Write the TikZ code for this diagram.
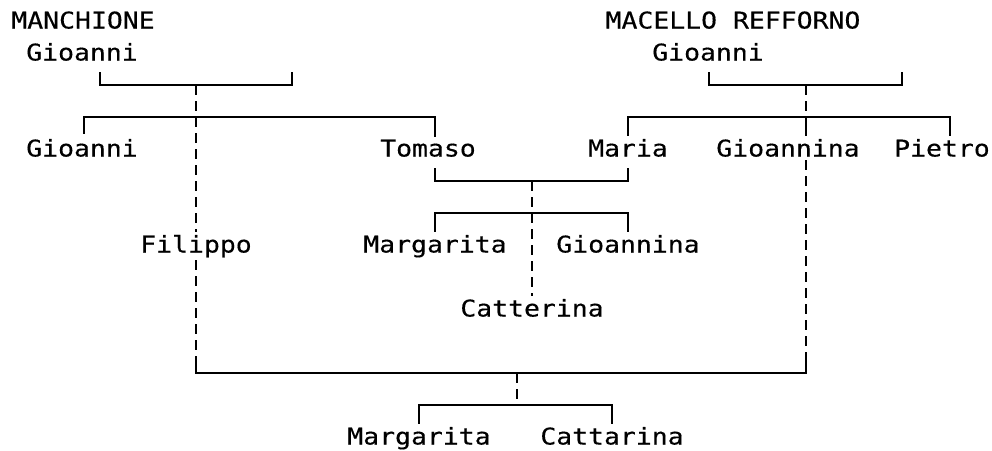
\documentclass[tikz,border=0pt]{standalone}
\usepackage{fontspec}
\usepackage{tikz}
\newfontfamily\kinfont[FakeStretch=1.15, FakeBold=0.4]{DejaVu Sans Mono}
\tikzset{
    person/.style ={font=\kinfont\fontsize{23}{27}\selectfont,
                    anchor=base, inner sep=3pt},
    tie/.style    ={line width=2pt, draw=black},
    descent/.style={line width=2pt, draw=black, dash pattern=on 10pt off 6pt}
}

\begin{document}
\begin{tikzpicture}[x=1pt, y=-1pt]
  \useasboundingbox (0,0) rectangle (992,450);

  % houses
  \node[person] (manchione) at ( 83, 28.5) {MANCHIONE};
  \node[person] (refforno)  at (733, 28.5) {MACELLO REFFORNO};
  \node[person] (gioM)      at ( 82, 60.5) {Gioanni};
  \node[person] (gioR)      at (708, 60.5) {Gioanni};

  % second generation
  \node[person] (gioanni)   at ( 82,156.5) {Gioanni};
  \node[person] (tomaso)    at (428,156.5) {Tomaso};
  \node[person] (maria)     at (628,156.5) {Maria};
  \node[person] (gioannina) at (788,156.5) {Gioannina};
  \node[person] (pietro)    at (942,156.5) {Pietro};
  \node[person] (filippo)   at (196,252.5) {Filippo};

  % children of Tomaso and Maria
  \node[person] (margarita)  at (435,252.5) {Margarita};
  \node[person] (gioannina2) at (628,252.5) {Gioannina};
  \node[person] (catterina)  at (532,316.5) {Catterina};

  % children of Filippo and Gioannina
  \node[person] (margarita2) at (419,444.5) {Margarita};
  \node[person] (cattarina)  at (612,444.5) {Cattarina};

  % junction points
  \coordinate (mL) at (100,72);  \coordinate (mR) at (292,72);
  \coordinate (mJ) at (196,85);  \coordinate (mK) at (196,117);
  \coordinate (rL) at (709,72);  \coordinate (rR) at (902,72);
  \coordinate (rJ) at (806,85);  \coordinate (rK) at (806,117);
  \coordinate (tT) at (435,168); \coordinate (aT) at (628,168);
  \coordinate (tJ) at (532,181); \coordinate (tK) at (532,213);
  \coordinate (fT) at (196,360); \coordinate (gT) at (806,360);
  \coordinate (fB) at (196,373); \coordinate (gB) at (806,373);
  \coordinate (cJ) at (517,373); \coordinate (cK) at (517,405);

  % Manchione line
  \draw[tie] (mL) |- (mJ) -| (mR);
  \draw[descent] (mJ) -- (mK);
  \draw[tie] (gioanni.north -| 84,0) ++(0,-2) |- (mK) -| (tomaso.north -| tT);
  \draw[descent] (mK) -- (filippo) -- (fB);

  % Refforno line
  \draw[tie] (rL) |- (rJ) -| (rR);
  \draw[descent] (rJ) -- (rK);
  \draw[tie] (maria.north) |- (rK) -| (pietro.north -| 950,0);
  \draw[tie] (rK) -- (gioannina.north -| rK);
  \draw[descent] (gioannina.south -| rK) -- (gT);

  % Tomaso and Maria
  \draw[tie] (tT) |- (tJ) -| (aT);
  \draw[descent] (tJ) -- (tK);
  \draw[tie] (margarita.north) |- (tK) -| (gioannina2.north);
  \draw[descent] (tK) -- (catterina);

  % Filippo and Gioannina
  \draw[tie] (fT) |- (cJ) -| (gT);
  \draw[descent] (cJ) -- (cK);
  \draw[tie] (margarita2.north) |- (cK) -| (cattarina.north);
\end{tikzpicture}
\end{document}
